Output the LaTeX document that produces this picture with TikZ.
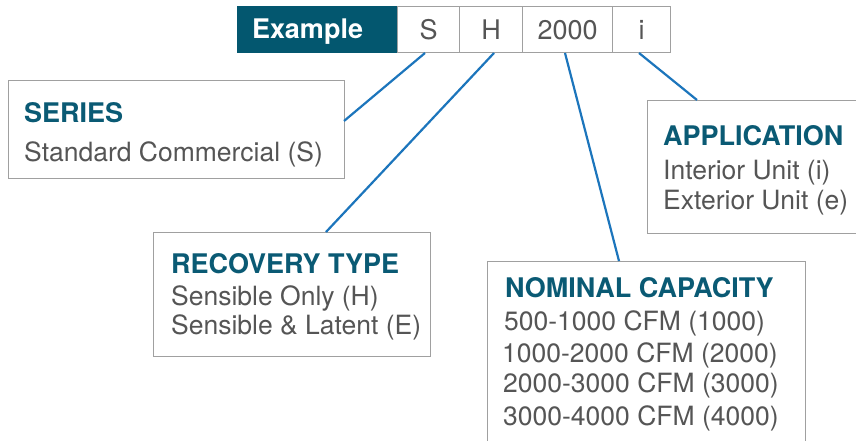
\documentclass[tikz,border=0pt]{standalone}
\usepackage{fontspec}
\setmainfont{TeX Gyre Heros}
\definecolor{teal1}{HTML}{0A5A74}
\definecolor{exbg}{HTML}{03576F}
\definecolor{linkblue}{HTML}{1C75BC}
\definecolor{boxgray}{HTML}{A0A0A0}
\definecolor{txtgray}{HTML}{555555}
\tikzset{
  box/.style={draw=boxgray, line width=1.4pt, fill=white, anchor=north west, inner sep=0pt},
  cell/.style={draw=boxgray, line width=1.4pt, fill=white, anchor=north west, inner sep=0pt, minimum height=46pt, text=txtgray, font=\fontsize{27}{27}\selectfont},
  head/.style={anchor=base west, inner sep=0pt, text=teal1, font=\fontsize{27}{27}\selectfont\bfseries},
  body/.style={anchor=base west, inner sep=0pt, text=txtgray, font=\fontsize{26.5}{26.5}\selectfont},
  link/.style={draw=linkblue, line width=2.2pt}
}
\begin{document}
\begin{tikzpicture}[x=1pt,y=-1pt]
\useasboundingbox (0,0) rectangle (856,440);
\clip (0,0) rectangle (856,440);
% top code row
\node[cell, draw=exbg, fill=exbg, minimum width=160pt] (ex) at (237,6) {};
\node[anchor=base west, inner sep=0pt, text=white, font=\fontsize{27}{27}\selectfont\bfseries] (extxt) at (252,38) {Example};
\node[cell, minimum width=62pt] (cs) at (397,6) {S};
\node[cell, minimum width=63pt] (ch) at (459,6) {H};
\node[cell, minimum width=90pt] (cc) at (522,6) {2000};
\node[cell, minimum width=58pt] (ci) at (612,6) {i};
% boxes
\node[box, minimum width=336pt, minimum height=98pt] (series) at (8,80) {};
\node[box, minimum width=230pt, minimum height=133pt] (app) at (647,100) {};
\node[box, minimum width=277pt, minimum height=124pt] (rec) at (153,232) {};
\node[box, minimum width=318pt, minimum height=200pt] (nom) at (487,261) {};
% texts
\node[head] (t1) at (24,122) {SERIES};
\node[body] (t2) at (24,161) {Standard Commercial (S)};
\node[head] (t3) at (663,145) {APPLICATION};
\node[body] (t4) at (663,179) {Interior Unit (i)};
\node[body] (t5) at (663,209) {Exterior Unit (e)};
\node[head] (t6) at (171,273) {RECOVERY TYPE};
\node[body] (t7) at (171,305) {Sensible Only (H)};
\node[body] (t8) at (171,334) {Sensible \& Latent (E)};
\node[head] (t9) at (505,297) {NOMINAL CAPACITY};
\node[body] (t10) at (504,330) {500-1000 CFM (1000)};
\node[body] (t11) at (502,362) {1000-2000 CFM (2000)};
\node[body] (t12) at (503,392) {2000-3000 CFM (3000)};
\node[body] (t13) at (503,425) {3000-4000 CFM (4000)};
% connectors
\coordinate (s1) at (425,53);
\coordinate (s2) at (344,121);
\coordinate (h1) at (494,53);
\coordinate (h2) at (326,232);
\coordinate (n1) at (565,53);
\coordinate (n2) at (619,261);
\coordinate (i1) at (639,53);
\coordinate (i2) at (697,100);
\draw[link] (s1) -- (s2);
\draw[link] (h1) -- (h2);
\draw[link] (n1) -- (n2);
\draw[link] (i1) -- (i2);
\end{tikzpicture}
\end{document}
